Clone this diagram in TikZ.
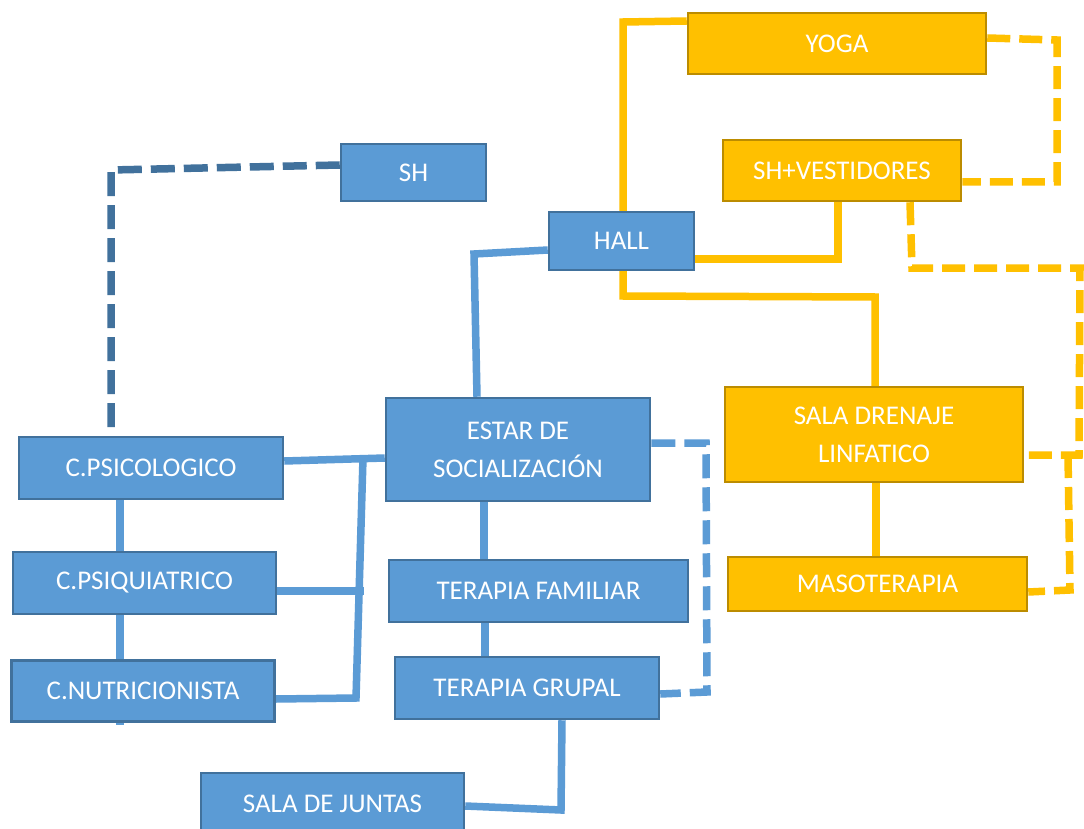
\documentclass[tikz,border=0pt]{standalone}
\usepackage{fontspec}
\setmainfont{Carlito}
\usetikzlibrary{backgrounds}
\definecolor{bfill}{HTML}{5B9BD5}
\definecolor{bdark}{HTML}{41719C}
\definecolor{ofill}{HTML}{FFC000}
\definecolor{odark}{HTML}{BC8C00}
\tikzset{
  boxbase/.style={line width=2.5pt, text=white, inner sep=0pt, align=center,
    font=\fontsize{27}{38}\selectfont},
  bbox/.style={boxbase, draw=bdark, fill=bfill},
  obox/.style={boxbase, draw=odark, fill=ofill},
  bline/.style={draw=bfill, line width=7.5pt},
  oline/.style={draw=ofill, line width=7.5pt},
  ddash/.style={draw=bdark, line width=7.5pt, dash pattern=on 24pt off 9pt},
  bdash/.style={draw=bfill, line width=7.5pt, dash pattern=on 24pt off 9pt},
  odash/.style={draw=ofill, line width=7.5pt, dash pattern=on 23pt off 9pt},
}
\begin{document}
\begin{tikzpicture}[x=1pt,y=-1pt]
\useasboundingbox (0,0) rectangle (1084,829);

% nodes
\node[bbox, minimum width=145pt, minimum height=57pt] (sh) at (413.5,172.5) {SH};
\node[obox, minimum width=298pt, minimum height=61pt] (yoga) at (837,43.5) {YOGA};
\node[obox, minimum width=238pt, minimum height=61pt] (shv) at (842,170.5) {SH+VESTIDORES};
\node[bbox, minimum width=145pt, minimum height=58pt] (hall) at (621.5,241) {HALL};
\node[obox, minimum width=298pt, minimum height=95pt] (sdl) at (874,434.5) {SALA DRENAJE\\LINFATICO};
\node[obox, minimum width=299pt, minimum height=54pt] (maso) at (877.5,584) {MASOTERAPIA};
\node[bbox, minimum width=264pt, minimum height=103pt, text depth=0pt] (estar) at (518,449.5) {ESTAR DE\\SOCIALIZACIÓN};
\node[bbox, minimum width=264pt, minimum height=62pt] (cpsic) at (151,468) {C.PSICOLOGICO};
\node[bbox, minimum width=263pt, minimum height=62pt] (cpsiq) at (144.5,583) {C.PSIQUIATRICO};
\node[bbox, minimum width=263pt, minimum height=61pt] (cnut) at (143,691) {C.NUTRICIONISTA};
\node[bbox, minimum width=299pt, minimum height=62pt] (tfam) at (538.5,591) {TERAPIA FAMILIAR};
\node[bbox, minimum width=264pt, minimum height=62pt] (tgrup) at (527,688) {TERAPIA GRUPAL};
\node[bbox, minimum width=263pt, minimum height=62pt] (juntas) at (332.5,804) {SALA DE JUNTAS};

\begin{scope}[on background layer]
\fill[white] (0,0) rectangle (1084,829);
% dark dashed SH
\draw[ddash] (sh.west |- 0,165) -- (111,170) -- (111,0 |- cpsic.north);
% blue solid
\draw[bline] (hall.west |- 0,250) -- (474,254) -- (477,0 |- estar.north);
\draw[bline] (cpsic.east |- 0,461) -- (estar.west |- 0,458);
\coordinate (vtop) at (363,458);
\draw[bline] (vtop) -- (356,698) -- (cnut.east |- 0,699);
\coordinate (vmid) at (364,591);
\draw[bline] (cpsiq.east |- 0,591) -- (vmid);
\coordinate (lstub) at (120,725);
\draw[bline] (120,0 |- cpsic.south) -- (lstub);
\draw[bline] (484,0 |- estar.south) -- (484,0 |- tfam.north);
\draw[bline] (485,0 |- tfam.south) -- (485,0 |- tgrup.north);
\draw[bline] (562,0 |- tgrup.south) -- (561,810) -- (juntas.east |- 0,806);
% blue dashed
\draw[bdash] (estar.east |- 0,443) -- (706,443) -- (707,692) -- (tgrup.east |- 0,694);
% orange solid
\draw[oline] (yoga.west |- 0,21) -- (623,22) -- (623,296) -- (875,297) -- (875,0 |- sdl.north);
\draw[oline] (hall.east |- 0,259) -- (838,259) -- (838,0 |- shv.south);
\draw[oline] (876,0 |- sdl.south) -- (876,0 |- maso.north);
% orange dashed
\draw[odash] (yoga.east |- 0,38) -- (1057,40) -- (1057,182) -- (shv.east |- 0,182);
\draw[odash] (910,0 |- shv.south) -- (912,268) -- (1080,268) -- (1079,455) -- (sdl.east |- 0,455);
\coordinate (mj) at (1068,455);
\draw[odash] (mj) -- (1070,590) -- (maso.east |- 0,592);
\end{scope}
\end{tikzpicture}
\end{document}
